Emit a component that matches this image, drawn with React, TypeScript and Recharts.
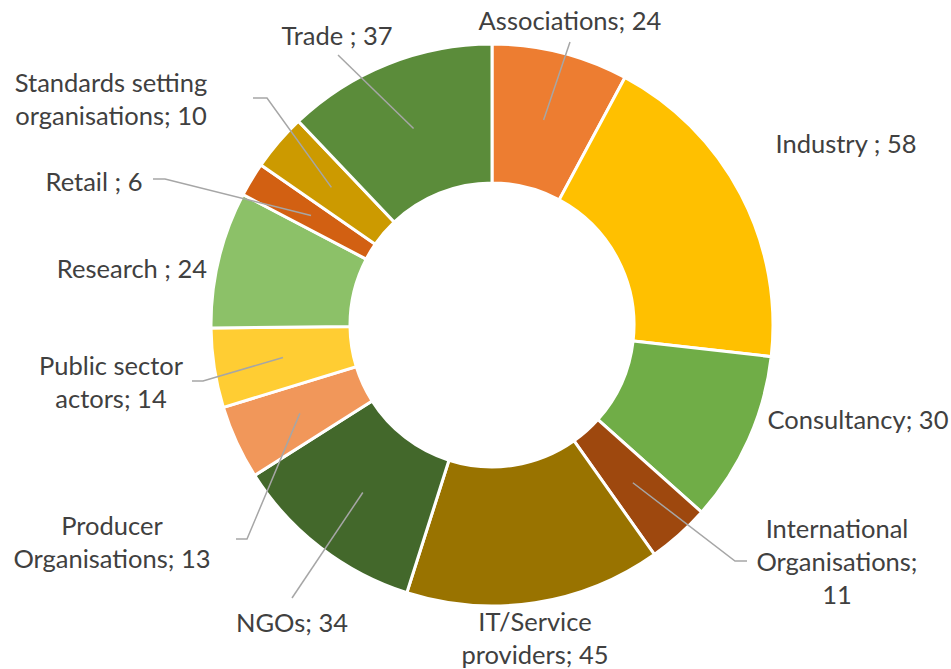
import React from 'react';
import { PieChart, Pie, Cell } from 'recharts';

// categories and values, clockwise from 12 o'clock
const categories = [
  'Associations',
  'Industry',
  'Consultancy',
  'International Organisations',
  'IT/Service providers',
  'NGOs',
  'Producer Organisations',
  'Public sector actors',
  'Research',
  'Retail',
  'Standards setting organisations',
  'Trade',
];
const counts = [24, 58, 30, 11, 45, 34, 13, 14, 24, 6, 10, 37];

// how each label is written (line breaks as in the original)
const labelLines = [
  ['Associations; 24'],
  ['Industry ; 58'],
  ['Consultancy; 30'],
  ['International', 'Organisations;', '11'],
  ['IT/Service', 'providers; 45'],
  ['NGOs; 34'],
  ['Producer', 'Organisations; 13'],
  ['Public sector', 'actors; 14'],
  ['Research ; 24'],
  ['Retail ; 6'],
  ['Standards setting', 'organisations; 10'],
  ['Trade ; 37'],
];

const colors = [
  '#ED7D31', '#FFC000', '#70AD47',
  '#9E480E', '#997300', '#43682B',
  '#F1975A', '#FFCD33', '#8CC168',
  '#D26012', '#CC9A00', '#5B8C3A',
];

// label placement (centre of text block) and leader line bends
const labelLayout = [
  { x: 570, y: 20, leader: [[570, 42]] },
  { x: 846, y: 143, leader: null },
  { x: 858, y: 419, leader: null },
  { x: 837, y: 528, leader: [[735, 561], [747, 561]] },
  { x: 535, y: 621, leader: null },
  { x: 292, y: 622, leader: [[292, 598]] },
  { x: 112, y: 525, leader: [[247, 539], [236, 539]] },
  { x: 111, y: 365, leader: [[203, 381], [192, 381]] },
  { x: 132, y: 268, leader: null },
  { x: 94, y: 181, leader: [[165, 179], [153, 179]] },
  { x: 111, y: 82, leader: [[267, 98], [253, 98]] },
  { x: 337, y: 35, leader: [[338, 55]] },
];

const data = categories.map((name, i) => ({ name, value: counts[i] }));

const LINE_H = 33;
const RAD = Math.PI / 180;

const renderLabel = (props: any) => {
  const { cx, cy, midAngle, innerRadius, outerRadius, index } = props;
  const lay = labelLayout[index];
  const r = (innerRadius + outerRadius) / 2;
  const sx = cx + r * Math.cos(-midAngle * RAD);
  const sy = cy + r * Math.sin(-midAngle * RAD);
  const lines = labelLines[index];
  let path = '';
  if (lay.leader) {
    path = `M${sx},${sy}` + lay.leader.map((p) => ` L${p[0]},${p[1]}`).join('');
  }
  return (
    <g key={`lbl-${index}`}>
      {path && <path d={path} stroke="#A6A6A6" strokeWidth={1.5} fill="none" />}
      <text
        x={lay.x}
        y={lay.y}
        textAnchor="middle"
        fill="#404040"
        style={{ fontFamily: 'Lato, sans-serif', fontSize: 25.5 }}
      >
        {lines.map((t, j) => (
          <tspan key={j} x={lay.x} y={lay.y + j * LINE_H} dominantBaseline="central">
            {t}
          </tspan>
        ))}
      </text>
    </g>
  );
};

export default function App() {
  return (
    <div style={{ position: 'absolute', left: 0, top: 0, width: 951, height: 669, background: '#fff' }}>
      <PieChart width={951} height={669} margin={{ top: 0, right: 0, bottom: 0, left: 0 }}>
        <Pie
          data={data}
          dataKey="value"
          nameKey="name"
          cx={492}
          cy={325}
          innerRadius={142}
          outerRadius={281}
          startAngle={90}
          endAngle={-270}
          stroke="#FFFFFF"
          strokeWidth={3}
          label={renderLabel}
          labelLine={false}
          isAnimationActive={false}
        >
          {data.map((d, i) => (
            <Cell key={d.name} fill={colors[i]} />
          ))}
        </Pie>
      </PieChart>
    </div>
  );
}
